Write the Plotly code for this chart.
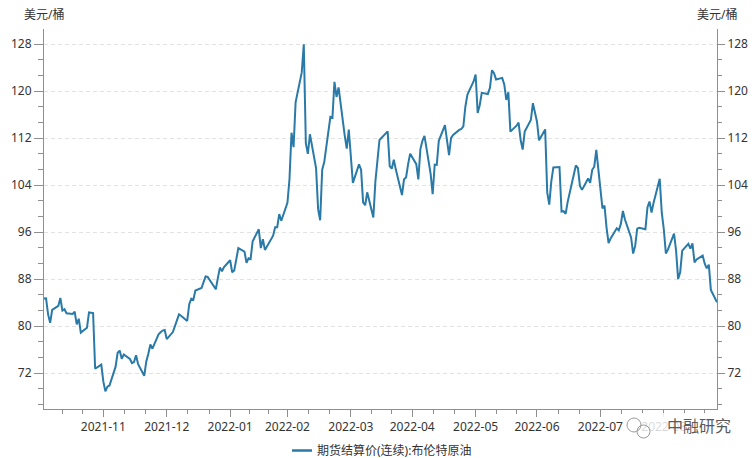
import pandas as pd
import plotly.graph_objects as go

# ---------------- data ----------------
trade_dates = [
    # 2021-11
    "2021-11-01", "2021-11-02", "2021-11-03", "2021-11-04", "2021-11-05", "2021-11-08", "2021-11-09",
    "2021-11-10", "2021-11-11", "2021-11-12", "2021-11-15", "2021-11-16", "2021-11-17", "2021-11-18",
    "2021-11-19", "2021-11-22", "2021-11-23", "2021-11-24", "2021-11-25", "2021-11-26", "2021-11-29",
    "2021-11-30",
    # 2021-12
    "2021-12-01", "2021-12-02", "2021-12-03", "2021-12-06", "2021-12-07", "2021-12-08", "2021-12-09",
    "2021-12-10", "2021-12-13", "2021-12-14", "2021-12-15", "2021-12-16", "2021-12-17", "2021-12-20",
    "2021-12-21", "2021-12-22", "2021-12-23", "2021-12-24", "2021-12-27", "2021-12-28", "2021-12-29",
    "2021-12-30", "2021-12-31",
    # 2022-01
    "2022-01-03", "2022-01-04", "2022-01-05", "2022-01-06", "2022-01-07", "2022-01-10", "2022-01-11",
    "2022-01-12", "2022-01-13", "2022-01-14", "2022-01-17", "2022-01-18", "2022-01-19", "2022-01-20",
    "2022-01-21", "2022-01-24", "2022-01-25", "2022-01-26", "2022-01-27", "2022-01-28", "2022-01-31",
    # 2022-02
    "2022-02-01", "2022-02-02", "2022-02-03", "2022-02-04", "2022-02-07", "2022-02-08", "2022-02-09",
    "2022-02-10", "2022-02-11", "2022-02-14", "2022-02-15", "2022-02-16", "2022-02-17", "2022-02-18",
    "2022-02-21", "2022-02-22", "2022-02-23", "2022-02-24", "2022-02-25", "2022-02-28",
    # 2022-03
    "2022-03-01", "2022-03-02", "2022-03-03", "2022-03-04", "2022-03-07", "2022-03-08", "2022-03-09",
    "2022-03-10", "2022-03-11", "2022-03-14", "2022-03-15", "2022-03-16", "2022-03-17", "2022-03-18",
    "2022-03-21", "2022-03-22", "2022-03-23", "2022-03-24", "2022-03-25", "2022-03-28", "2022-03-29",
    "2022-03-30", "2022-03-31",
    # 2022-04
    "2022-04-01", "2022-04-04", "2022-04-05", "2022-04-06", "2022-04-07", "2022-04-08", "2022-04-11",
    "2022-04-12", "2022-04-13", "2022-04-14", "2022-04-18", "2022-04-19", "2022-04-20", "2022-04-21",
    "2022-04-22", "2022-04-25", "2022-04-26", "2022-04-27", "2022-04-28", "2022-04-29",
    # 2022-05
    "2022-05-02", "2022-05-03", "2022-05-04", "2022-05-05", "2022-05-06", "2022-05-09", "2022-05-10",
    "2022-05-11", "2022-05-12", "2022-05-13", "2022-05-16", "2022-05-17", "2022-05-18", "2022-05-19",
    "2022-05-20", "2022-05-23", "2022-05-24", "2022-05-25", "2022-05-26", "2022-05-27", "2022-05-30",
    "2022-05-31",
    # 2022-06
    "2022-06-01", "2022-06-02", "2022-06-03", "2022-06-06", "2022-06-07", "2022-06-08", "2022-06-09",
    "2022-06-10", "2022-06-13", "2022-06-14", "2022-06-15", "2022-06-16", "2022-06-17", "2022-06-20",
    "2022-06-21", "2022-06-22", "2022-06-23", "2022-06-24", "2022-06-27", "2022-06-28", "2022-06-29",
    "2022-06-30",
    # 2022-07
    "2022-07-01", "2022-07-04", "2022-07-05", "2022-07-06", "2022-07-07", "2022-07-08", "2022-07-11",
    "2022-07-12", "2022-07-13", "2022-07-14", "2022-07-15", "2022-07-18", "2022-07-19", "2022-07-20",
    "2022-07-21", "2022-07-22", "2022-07-25", "2022-07-26", "2022-07-27", "2022-07-28", "2022-07-29",
    # 2022-08
    "2022-08-01", "2022-08-02", "2022-08-03", "2022-08-04", "2022-08-05", "2022-08-08", "2022-08-09",
    "2022-08-10", "2022-08-11", "2022-08-12", "2022-08-15", "2022-08-16", "2022-08-17", "2022-08-18",
    "2022-08-19", "2022-08-22", "2022-08-23", "2022-08-24", "2022-08-25", "2022-08-26", "2022-08-29",
    "2022-08-30", "2022-08-31",
    # 2022-09
    "2022-09-01", "2022-09-02", "2022-09-05", "2022-09-06", "2022-09-07", "2022-09-08", "2022-09-09",
    "2022-09-12", "2022-09-13", "2022-09-14", "2022-09-15", "2022-09-16", "2022-09-19", "2022-09-20",
    "2022-09-21", "2022-09-22", "2022-09-23", "2022-09-26",
]

settle_prices = [
    # 2021-11
    84.71, 84.72, 81.99, 80.54, 82.74, 83.43, 84.78,
    82.64, 82.87, 82.17, 82.05, 82.43, 80.28, 81.24,
    78.89, 79.70, 82.31, 82.25, 82.22, 72.72, 73.44,
    70.57,
    # 2021-12
    68.87, 69.67, 69.88, 73.08, 75.44, 75.82, 74.42,
    75.15, 74.39, 73.70, 73.88, 75.02, 73.52, 71.52,
    73.98, 75.29, 76.85, 76.14, 78.60, 78.94, 79.23,
    79.32, 77.78,
    # 2022-01
    78.98, 80.00, 80.80, 81.99, 81.75, 80.87, 83.72,
    84.67, 84.47, 86.06, 86.48, 87.51, 88.44, 88.38,
    87.89, 86.27, 88.20, 89.96, 89.34, 90.03, 91.21,
    # 2022-02
    89.16, 89.47, 91.11, 93.27, 92.69, 90.78, 91.55,
    91.41, 94.44, 96.48, 93.28, 94.81, 92.97, 93.54,
    95.39, 96.84, 96.84, 99.08, 97.93, 100.99,
    # 2022-03
    104.97, 112.93, 110.46, 118.11, 123.21, 127.98, 111.14,
    109.33, 112.67, 106.90, 99.91, 98.02, 106.64, 107.93,
    115.62, 115.48, 121.60, 119.03, 120.65, 112.48, 110.23,
    113.45, 107.91,
    # 2022-04
    104.39, 107.53, 106.64, 101.07, 100.58, 102.78, 98.48,
    104.64, 108.78, 111.70, 113.16, 107.25, 106.80, 108.33,
    106.65, 102.32, 104.99, 105.32, 107.59, 109.34,
    # 2022-05
    107.58, 104.97, 110.14, 111.55, 112.39, 105.94, 102.46,
    107.51, 107.45, 111.55, 114.24, 111.93, 109.11, 112.04,
    112.55, 113.42, 113.56, 114.03, 117.40, 119.43, 121.67,
    122.84,
    # 2022-06
    116.29, 117.61, 119.72, 119.51, 120.57, 123.58, 123.07,
    122.01, 122.27, 121.17, 118.51, 119.81, 113.12, 114.13,
    114.65, 111.74, 110.05, 113.12, 115.09, 117.98, 116.26,
    114.81,
    # 2022-07
    111.63, 113.50, 102.77, 100.69, 104.65, 107.02, 107.10,
    99.49, 99.57, 99.10, 101.16, 106.27, 107.35, 106.92,
    103.86, 103.20, 105.15, 104.40, 106.62, 107.14, 110.01,
    # 2022-08
    100.03, 100.54, 96.78, 94.12, 94.92, 96.65, 96.31,
    97.40, 99.60, 98.15, 95.10, 92.34, 93.65, 96.59,
    96.72, 96.48, 100.22, 101.22, 99.34, 100.99, 105.09,
    99.31, 96.49,
    # 2022-09
    92.36, 93.02, 95.74, 92.83, 88.00, 89.15, 92.84,
    94.00, 93.17, 94.10, 90.84, 91.35, 92.00, 90.62,
    89.83, 90.46, 86.15, 84.06,
]

# x ticks sit on the last day of each month, labelled with that month
month_end_ticks = ["2021-11-30", "2021-12-31", "2022-01-31", "2022-02-28", "2022-03-31",
                   "2022-04-30", "2022-05-31", "2022-06-30", "2022-07-31", "2022-08-31"]
month_labels = ["2021-11", "2021-12", "2022-01", "2022-02", "2022-03",
                "2022-04", "2022-05", "2022-06", "2022-07", "2022-08"]
y_ticks = [72, 80, 88, 96, 104, 112, 120, 128]

series_name = "期货结算价(连续):布伦特原油"
unit_label = "美元/桶"
watermark = "中融研究"

# ---------------- styling ----------------
W, H = 756, 458
ML, MR, MT, MB = 44, 39, 29, 49
PW, PH = W - ML - MR, H - MT - MB
LINE = "#2a7aa8"
AXIS = "#8f8f8f"
TXT = "#333333"
FONT = "Noto Sans, Noto Sans CJK SC, sans-serif"
YR = [65.87, 130.6]


def px_x(x):
    return (x - ML) / PW


def px_y(y):
    return (H - MB - y) / PH


# minor x ticks: each month interval divided in thirds
ends = pd.to_datetime(["2021-10-31"] + month_end_ticks + ["2022-09-30"])
minor_x = []
for a, b in zip(ends[:-1], ends[1:]):
    step = (b - a) / 3
    minor_x += [a + step, a + 2 * step]
minor_x = [d.strftime("%Y-%m-%d %H:%M") for d in minor_x]

fig = go.Figure()
fig.add_trace(go.Scatter(
    x=trade_dates, y=settle_prices, mode="lines", name=series_name,
    line=dict(color=LINE, width=2), yaxis="y", hoverinfo="x+y", showlegend=False,
))
# invisible copy so that the right-hand axis renders
fig.add_trace(go.Scatter(
    x=trade_dates, y=settle_prices, mode="lines", yaxis="y2", showlegend=False,
    line=dict(color="rgba(0,0,0,0)", width=0), hoverinfo="skip",
))

yaxis_common = dict(
    range=YR, tickmode="array", tickvals=y_ticks, ticks="outside",
    tickcolor=AXIS, showline=True, linecolor=AXIS, linewidth=1, zeroline=False,
    tickfont=dict(family=FONT, size=12, color=TXT),
)

fig.update_layout(
    width=W, height=H, autosize=False,
    margin=dict(l=ML, r=MR, t=MT, b=MB, pad=0, autoexpand=False),
    paper_bgcolor="white", plot_bgcolor="white",
    font=dict(family=FONT, size=12, color=TXT),
    showlegend=False,
    xaxis=dict(
        type="date", range=["2021-11-01", "2022-09-26"],
        tickmode="array", tickvals=month_end_ticks, ticktext=month_labels,
        ticks="outside", ticklen=7, tickcolor=AXIS, showline=True, linecolor=AXIS,
        linewidth=1, showgrid=False, zeroline=False,
        tickfont=dict(family=FONT, size=12, color=TXT),
        minor=dict(tickmode="array", tickvals=minor_x, ticks="outside", ticklen=4,
                   tickcolor=AXIS, showgrid=False),
    ),
    yaxis=dict(**yaxis_common, side="left", ticklen=9, showgrid=True,
               gridcolor="#e2e2e2", griddash="4px,3px", gridwidth=1,
               minor=dict(tick0=72, dtick=8 / 3, ticks="outside", ticklen=5,
                          tickcolor=AXIS, showgrid=False)),
    yaxis2=dict(**yaxis_common, side="right", overlaying="y", ticklen=7, showgrid=False,
                minor=dict(tick0=72, dtick=8 / 3, ticks="outside", ticklen=4,
                           tickcolor=AXIS, showgrid=False)),
)

# legend drawn below the plot: sample line + series name
fig.add_shape(type="line", xref="paper", yref="paper", x0=px_x(292), x1=px_x(312),
              y0=px_y(450.5), y1=px_y(450.5), line=dict(color=LINE, width=2.5))
fig.add_annotation(x=px_x(315), y=px_y(450.5), xref="paper", yref="paper", text=series_name,
                   showarrow=False, xanchor="left", yanchor="middle",
                   font=dict(family=FONT, size=12, color=TXT))

# unit labels above both axes
for xp in (0, 1):
    fig.add_annotation(x=xp, y=px_y(14.5), xref="paper", yref="paper",
                       text=unit_label, showarrow=False, xanchor="center", yanchor="middle",
                       font=dict(family=FONT, size=12, color=TXT))

# watermark (semi-transparent cover + icon + text)
fig.add_shape(type="rect", xref="paper", yref="paper", x0=px_x(626), x1=px_x(736),
              y0=px_y(437), y1=px_y(413), line=dict(width=0),
              fillcolor="rgba(255,255,255,0.82)", layer="above")
fig.add_shape(type="circle", xref="paper", yref="paper", x0=px_x(627), x1=px_x(641),
              y0=px_y(432), y1=px_y(418), line=dict(color="#9a9a9a", width=1), layer="above")
fig.add_shape(type="circle", xref="paper", yref="paper", x0=px_x(637), x1=px_x(650),
              y0=px_y(438), y1=px_y(425), line=dict(color="#9a9a9a", width=1), layer="above")
fig.add_annotation(x=px_x(699), y=px_y(425), xref="paper", yref="paper", text=watermark,
                   showarrow=False, xanchor="center", yanchor="middle",
                   font=dict(family="Noto Sans CJK SC, sans-serif", size=16, color="#5a5a5a"))

fig.write_html("out.html", config={"displayModeBar": False},
               post_script="document.body.style.margin='0';document.body.style.overflow='hidden';")
